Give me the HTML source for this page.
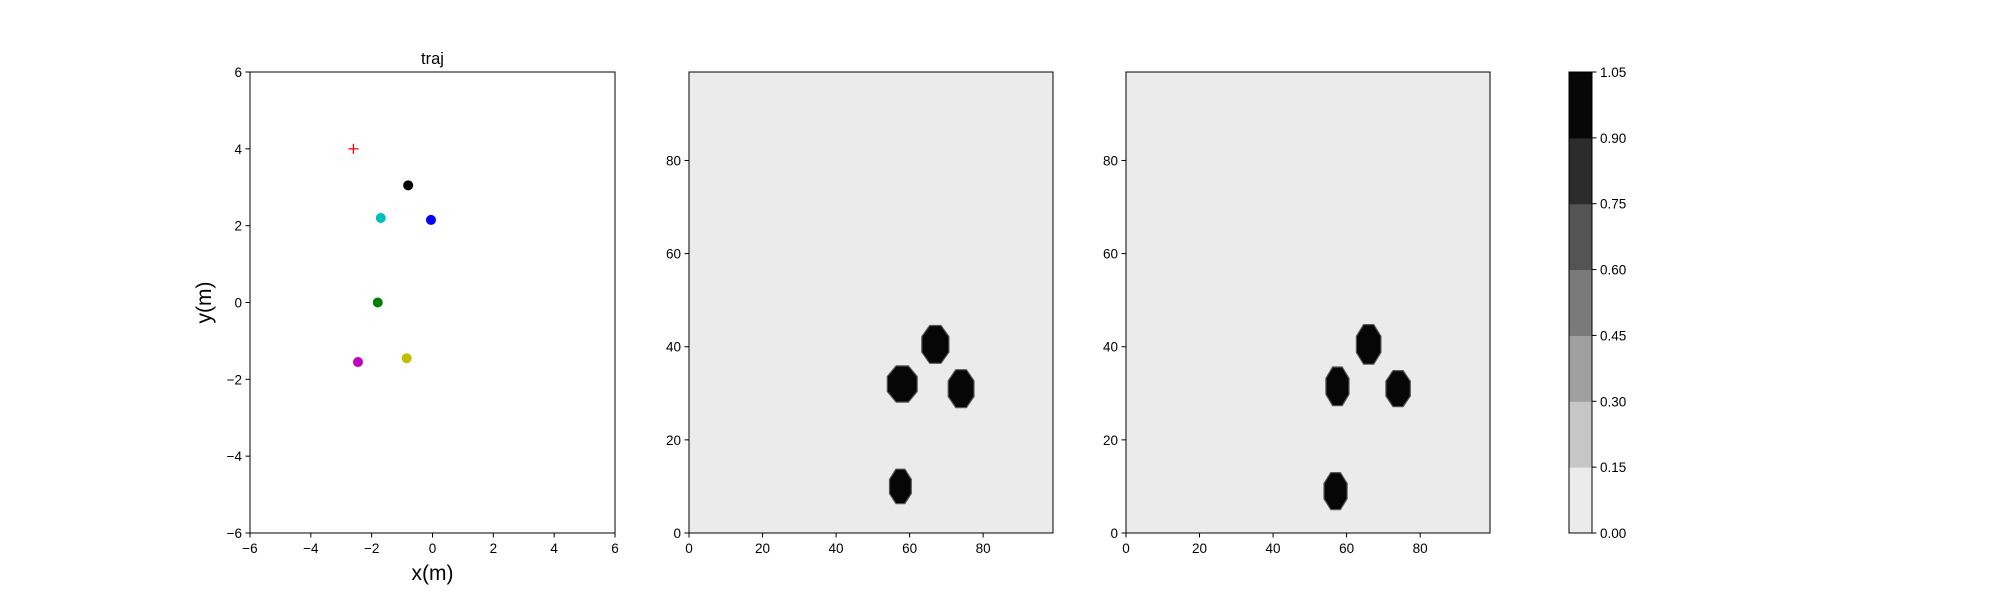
<!DOCTYPE html>
<html><head><meta charset="utf-8"><style>
body{margin:0;background:#fff}
svg{display:block;font-family:"Liberation Sans","DejaVu Sans",sans-serif}
</style></head><body>
<svg id="fig" width="2000" height="600" viewBox="0 0 2000 600"></svg>
<script>
// ---- data ----
const trajLabels = ['goal','agent-black','agent-cyan','agent-blue','agent-green','agent-magenta','agent-yellow'];
const trajX = [-2.6, -0.8, -1.7, -0.05, -1.8, -2.45, -0.85];
const trajY = [4.0, 3.05, 2.2, 2.15, 0.0, -1.55, -1.45];
const trajColors = ['#ff0000','#000000','#00bfbf','#0000ff','#008000','#bf00bf','#bfbf00'];
const trajTicks = [-6,-4,-2,0,2,4,6];
const mapXTicks = [0,20,40,60,80];
const mapYTicks = [0,20,40,60,80];
const blobs2X = [67, 58, 74, 57.5];
const blobs2Y = [40.5, 32, 31, 10];
const blobs2RX = [4.0, 4.4, 3.8, 3.2];
const blobs2RY = [4.4, 4.2, 4.4, 4.0];
const blobs3X = [66, 57.5, 74, 57];
const blobs3Y = [40.5, 31.5, 31, 9];
const blobs3RX = [3.6, 3.4, 3.6, 3.4];
const blobs3RY = [4.6, 4.5, 4.2, 4.3];
const cbLevels = [0,0.15,0.30,0.45,0.60,0.75,0.90,1.05];
const cbColors = ['#ebebeb','#c6c6c6','#a0a0a0','#7a7a7a','#545454','#2c2c2c','#060606'];
const cbTickLabels = ['0.00','0.15','0.30','0.45','0.60','0.75','0.90','1.05'];

const NS='http://www.w3.org/2000/svg';
const svg=document.getElementById('fig');
function mk(tag,attrs,parent,text){const e=document.createElementNS(NS,tag);for(const k in attrs)e.setAttribute(k,attrs[k]);if(text!==undefined)e.textContent=text;(parent||svg).appendChild(e);return e;}
const TOP=72,BOT=533;
function lin(d0,d1,r0,r1){return v=>r0+(v-d0)/(d1-d0)*(r1-r0);}

function axesFrame(L,R,xs,ys,xt,yt,name){
  const g=mk('g',{});
  
  
  xt.forEach(t=>{const x=xs(t);
    mk('line',{x1:x,x2:x,y1:BOT,y2:BOT+4.5,stroke:'#000','stroke-width':1},g);
    const tx=mk('text',{x:x,y:BOT+20,'font-size':13.5,'text-anchor':'middle'},g,String(t).replace('-','\u2212'));
    
    });
  yt.forEach(t=>{const y=ys(t);
    mk('line',{x1:L-4.5,x2:L,y1:y,y2:y,stroke:'#000','stroke-width':1},g);
    const tx=mk('text',{x:L-8,y:y+5,'font-size':13.5,'text-anchor':'end'},g,String(t).replace('-','\u2212'));
    
    });
  mk('rect',{x:L,y:TOP,width:R-L,height:BOT-TOP,fill:'none',stroke:'#000','stroke-width':1},g);
  return g;
}

// Panel 1
(function(){
  const L=250,R=615;
  const xs=lin(-6,6,L,R), ys=lin(-6,6,BOT,TOP);
  mk('rect',{x:L,y:TOP,width:R-L,height:BOT-TOP,fill:'#fff'});
  trajX.forEach((v,i)=>{
    const cx=xs(v), cy=ys(trajY[i]);
    if(i===0){
      const g=mk('g',{});
      
      
      mk('line',{x1:cx-5,x2:cx+5,y1:cy,y2:cy,stroke:trajColors[i],'stroke-width':1.3},g);
      mk('line',{x1:cx,x2:cx,y1:cy-5,y2:cy+5,stroke:trajColors[i],'stroke-width':1.3},g);
    } else {
      const c=mk('circle',{cx:cx,cy:cy,r:5,fill:trajColors[i]});
      
      
    }
  });
  axesFrame(L,R,xs,ys,trajTicks,trajTicks,'traj');
  const t=mk('text',{x:(L+R)/2,y:64,'font-size':16.5,'text-anchor':'middle'},svg,'traj');
  
  
  const xl=mk('text',{x:(L+R)/2,y:580,'font-size':21,'text-anchor':'middle'},svg,'x(m)');
  
  
  const yl=mk('text',{x:0,y:0,'font-size':21,'text-anchor':'middle',transform:`translate(211,${(TOP+BOT)/2}) rotate(-90)`},svg,'y(m)');
  
  
})();

function mapPanel(L,R,bx,by,rx,ry,name){
  const xs=lin(0,99,L,R), ys=lin(0,99,BOT,TOP);
  const bg=mk('rect',{x:L,y:TOP,width:R-L,height:BOT-TOP,fill:cbColors[0]});
  
  
  bx.forEach((v,i)=>{
    const pts=[];
    for(let k=0;k<8;k++){const a=Math.PI/8+k*Math.PI/4;
      pts.push(xs(v+rx[i]*Math.cos(a)).toFixed(1)+','+ys(by[i]+ry[i]*Math.sin(a)).toFixed(1));}
    const p=mk('polygon',{points:pts.join(' '),fill:cbColors[6],stroke:'#555','stroke-width':1.2,'stroke-linejoin':'round'});
    
    
  });
  axesFrame(L,R,xs,ys,mapXTicks,mapYTicks,name);
}
mapPanel(689,1053,blobs2X,blobs2Y,blobs2RX,blobs2RY,'map-left');
mapPanel(1126,1490,blobs3X,blobs3Y,blobs3RX,blobs3RY,'map-right');

// Colorbar
(function(){
  const L=1569,R=1592;
  const ys=lin(0,1.05,BOT,TOP);
  const g=mk('g',{});
  
  
  cbColors.forEach((c,i)=>{
    const y0=ys(cbLevels[i+1]), y1=ys(cbLevels[i]);
    mk('rect',{x:L,y:y0,width:R-L,height:y1-y0+0.5,fill:c},g);
  });
  mk('rect',{x:L,y:TOP,width:R-L,height:BOT-TOP,fill:'none',stroke:'#000','stroke-width':1},g);
  cbLevels.forEach((v,i)=>{const y=ys(v);
    mk('line',{x1:R,x2:R+4.5,y1:y,y2:y,stroke:'#000'},g);
    const t=mk('text',{x:R+8,y:y+5,'font-size':13.5},g,cbTickLabels[i]);
    
    
  });
})();
</script>
</body></html>
